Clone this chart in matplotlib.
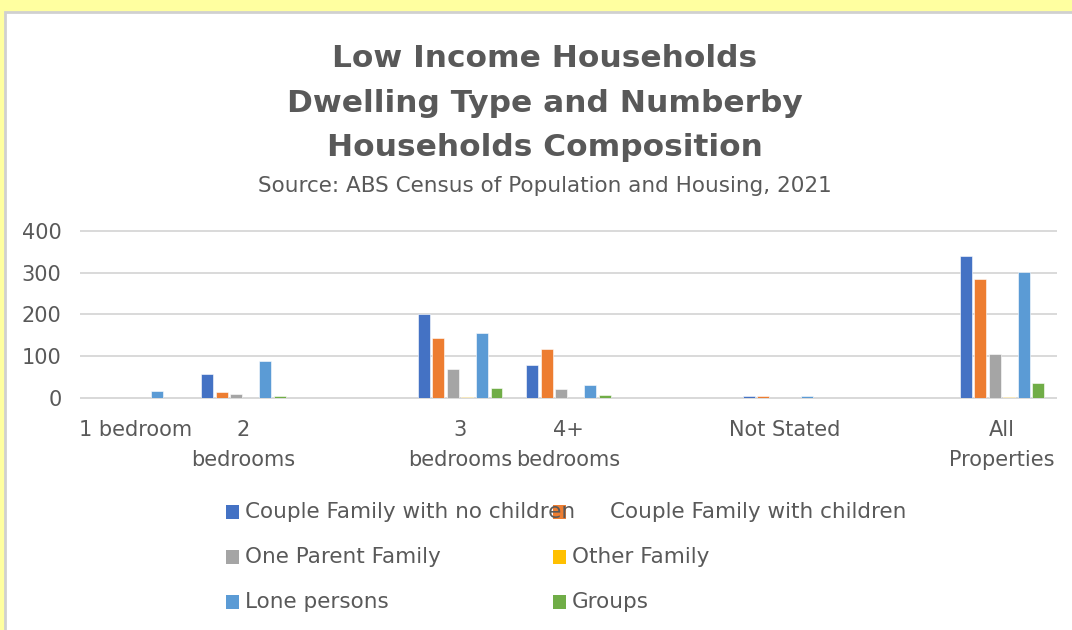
import numpy as np
import matplotlib
matplotlib.use("Agg")
import matplotlib.pyplot as plt
from matplotlib.patches import Rectangle

# dwelling types (blank slots leave gaps between groups)
categories = ["1 bedroom", "2\nbedrooms", "", "3\nbedrooms", "4+\nbedrooms",
              "", "Not Stated", "", "All\nProperties"]

series_names = ["Couple Family with no children", "Couple Family with children",
                "One Parent Family", "Other Family", "Lone persons", "Groups"]

couple_no_children = [0, 57, 0, 200, 78, 0, 3, 0, 341]
couple_children = [0, 14, 0, 144, 118, 0, 4, 0, 285]
one_parent = [0, 10, 0, 69, 22, 0, 0, 0, 104]
other_family = [0, 0, 0, 1, 0, 0, 0, 0, 1]
lone_persons = [16, 88, 0, 156, 30, 0, 4, 0, 301]
groups = [0, 4, 0, 23, 6, 0, 0, 0, 36]

values = [couple_no_children, couple_children, one_parent,
          other_family, lone_persons, groups]
colors = ["#4472C4", "#ED7D31", "#A5A5A5", "#FFC000", "#5B9BD5", "#70AD47"]

text_col = "#595959"
plt.rcParams["font.family"] = ["DejaVu Sans"]

W, H = 1072, 630
fig = plt.figure(figsize=(W / 100, H / 100), dpi=100)
fig.patch.set_facecolor("#FFFFA0")
fig.add_artist(Rectangle((5 / W, -0.05), 1.1, 1 - 12 / H + 0.05,
                         transform=fig.transFigure, facecolor="white",
                         edgecolor="#D0D0D0", linewidth=2, zorder=-10))

ax = fig.add_axes([81 / W, 1 - 397.7 / H, 975 / W, 166.7 / H])
ax.set_facecolor("none")

x = np.arange(len(categories))
pitch = 0.134
width = 0.11
for i, (vals, col) in enumerate(zip(values, colors)):
    ax.bar(x + (i - 2.5) * pitch, vals, width, color=col,
           edgecolor="white", linewidth=0.4, label=series_names[i], zorder=3)

ax.set_xlim(-0.5, len(categories) - 0.5)
ax.set_ylim(0, 400)
ax.set_yticks([0, 100, 200, 300, 400])
ax.set_xticks(x)
ax.set_xticklabels(categories, linespacing=1.6)
ax.tick_params(axis="both", length=0, labelsize=15, colors=text_col)
ax.tick_params(axis="x", pad=16)
ax.tick_params(axis="y", pad=14)
ax.grid(axis="y", color="#D9D9D9", linewidth=1.4, zorder=0)
for gl in ax.get_ygridlines():
    gl.set_clip_on(False)
for s in ax.spines.values():
    s.set_visible(False)
ax.axhline(0, color="#D9D9D9", linewidth=1.4, zorder=1, clip_on=False)

fig.text(545 / W, 1 - 103 / H,
         "Low Income Households\nDwelling Type and Numberby\nHouseholds Composition",
         ha="center", va="center", fontsize=22.5, fontweight="bold",
         color=text_col, linespacing=1.66)
fig.text(545 / W, 1 - 186 / H, "Source: ABS Census of Population and Housing, 2021",
         ha="center", va="center", fontsize=15.5, color=text_col)

# legend laid out in two columns under the axis
col_x = [226, 553]
row_y = [512, 557, 602]
for i, name in enumerate(series_names):
    cx = col_x[i % 2]
    cy = row_y[i // 2]
    fig.add_artist(Rectangle((cx / W, 1 - (cy + 7) / H), 13 / W, 14 / H,
                             transform=fig.transFigure, facecolor=colors[i],
                             edgecolor="none"))
    tx = 610 if i == 1 else cx + 19
    fig.text(tx / W, 1 - cy / H, name, ha="left", va="center",
             fontsize=15.5, color=text_col)

fig.savefig("out.png", dpi=100, facecolor=fig.get_facecolor())
